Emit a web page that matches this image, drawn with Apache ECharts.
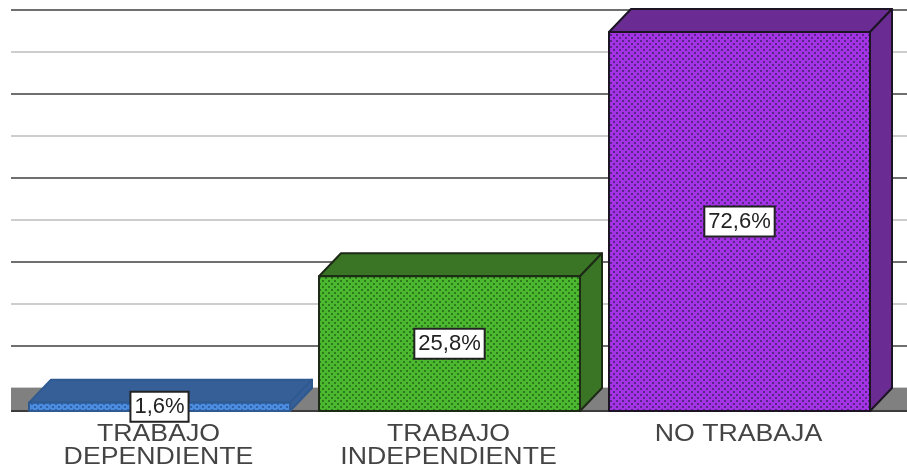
<!DOCTYPE html>
<html><head><meta charset="utf-8">
<style>html,body{margin:0;padding:0;background:#fff}#c{width:907px;height:468px}</style>
<script src="https://cdn.jsdelivr.net/npm/echarts@6/dist/echarts.min.js"></script>
</head><body><div id="c"></div>
<script>
const categories = ['TRABAJO\nDEPENDIENTE', 'TRABAJO\nINDEPENDIENTE', 'NO TRABAJA'];
const values = [1.6, 25.8, 72.6];
const faceColors = ['#4b8be0', '#4cb82f', '#a533e6'];
const dotColors = ['#2f64a8', '#2c7a1c', '#5a2688'];
const shadeColors = ['#355f96', '#3a7526', '#6a2c92'];
const edgeColors = ['#2f5a90', '#1c2a16', '#1c1424'];
const wallTop = 72;
const wallStep = 8;

function pattern(bg, dot) {
  const c = document.createElement('canvas');
  c.width = 6; c.height = 6;
  const g = c.getContext('2d');
  g.fillStyle = bg; g.fillRect(0, 0, 6, 6);
  g.fillStyle = dot;
  g.fillRect(1, 1, 2, 2);
  g.fillRect(4, 4, 2, 2);
  return c;
}
const dx = 22, dy = 23;
const chart = echarts.init(document.getElementById('c'));
chart.setOption({
  animation: false,
  backgroundColor: '#fff',
  grid: [
    { left: 14.5, width: 870, top: 32, bottom: 57 },
    { left: 11, right: 0, top: 10, bottom: 80 }
  ],
  xAxis: [
    { type: 'category', gridIndex: 0, data: categories, axisLine: { show: false }, axisTick: { show: false }, axisLabel: { show: false } },
    { type: 'value', gridIndex: 1, show: false, min: 0, max: 1 }
  ],
  yAxis: [
    { type: 'value', gridIndex: 0, show: false, min: 0, max: 72.6 },
    { type: 'value', gridIndex: 1, min: 0, max: wallTop, interval: wallStep,
      axisLine: { show: false }, axisTick: { show: false }, axisLabel: { show: false },
      splitLine: { show: true, lineStyle: { width: 2, color: ['#cdcdcd', '#6f6f6f'] } } }
  ],
  series: [
    { type: 'custom', xAxisIndex: 1, yAxisIndex: 1, z: 1, silent: true, clip: false,
      data: [[0, 0]],
      renderItem(params, api) {
        const cs = params.coordSys;
        const y = api.coord([0, 0])[1];
        return { type: 'group', children: [
          { type: 'rect', shape: { x: cs.x, y: y, width: cs.width, height: dy }, style: { fill: '#808080' } },
          { type: 'rect', shape: { x: cs.x, y: y + dy - 1, width: cs.width, height: 2 }, style: { fill: '#3c3c3c' } }
        ] };
      }
    },
    { type: 'custom', xAxisIndex: 0, yAxisIndex: 0, z: 3, silent: true, clip: false,
      data: values.map((v, i) => [i, v]),
      renderItem(params, api) {
        const i = api.value(0), v = api.value(1);
        const top = api.coord([i, v]), base = api.coord([i, 0]);
        const w = api.size([1, 0])[0] * 0.9;
        const l = top[0] - w / 2, r = top[0] + w / 2, t = top[1], b = base[1];
        const line = { stroke: edgeColors[i], lineWidth: 2, lineJoin: 'round' };
        const lines = categories[i].split('\n');
        return { type: 'group', children: [
          { type: 'polygon', shape: { points: [[l, t], [l + dx, t - dy], [r + dx, t - dy], [r, t]] },
            style: Object.assign({ fill: shadeColors[i] }, line) },
          { type: 'polygon', shape: { points: [[r, t], [r + dx, t - dy], [r + dx, b - dy], [r, b]] },
            style: Object.assign({ fill: shadeColors[i] }, line) },
          { type: 'rect', shape: { x: l, y: t, width: w, height: b - t },
            style: Object.assign({ fill: { image: pattern(faceColors[i], dotColors[i]), repeat: 'repeat' } }, line) },
          { type: 'text', x: top[0] - 1, y: b + 12, scaleX: 1.16, z2: 5,
            style: { text: lines.join('\n'), fill: '#444', font: '23px "Liberation Sans"',
              lineHeight: 23, align: 'center', verticalAlign: 'top' } },
          { type: 'text', x: top[0], y: (t + b) / 2, z2: 10,
            style: { text: v.toFixed(1).replace('.', ',') + '%', fill: '#222', font: '22px "Liberation Sans"',
              align: 'center', verticalAlign: 'middle', backgroundColor: '#fff',
              borderColor: '#222', borderWidth: 2, padding: [4, 3, 2, 3] } }
        ] };
      }
    }
  ]
});
</script></body></html>
